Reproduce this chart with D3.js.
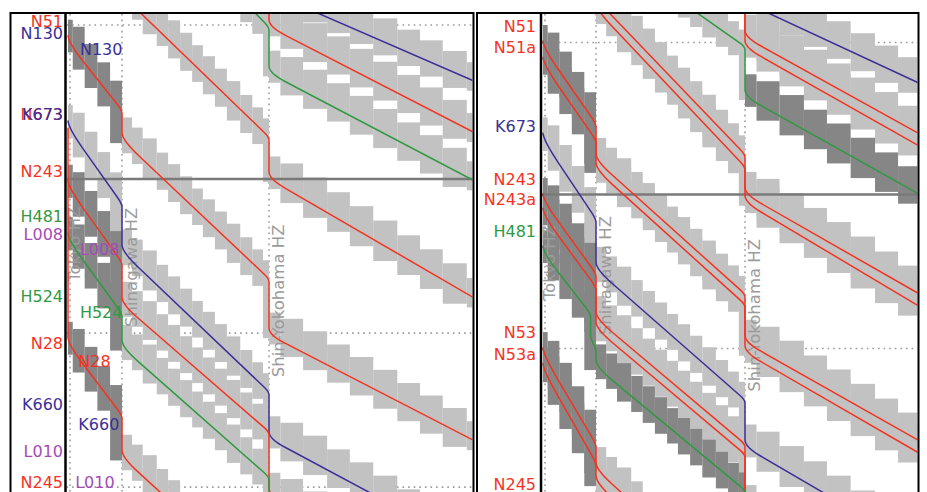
<!DOCTYPE html>
<html><head><meta charset="utf-8">
<script src="https://cdn.jsdelivr.net/npm/d3@7"></script>
<style>body{margin:0;background:#fff;} svg{display:block;font-family:"DejaVu Sans",sans-serif;}</style>
</head><body><svg id="c" width="927" height="492"></svg>
<script>
// ---------------- DATA ----------------
// stations (km from Tokyo)
const stationNames = ["Tokyo HZ", "Shinagawa HZ", "Shin-Yokohama HZ"];
const stationKm = [0, 6.8, 28.8];
// block section boundaries (km)
const blockBounds = [0, 0.6, 2.1, 3.7, 5.3, 6.8, 8.3, 9.9, 12.0, 13.7, 15.5, 17.3, 18.9, 20.7, 22.5, 24.5, 26.3, 27.9, 28.8,
  30.5, 33.9, 37.5, 40.9, 44.4, 48.0, 51.4, 54.8, 58.4, 61.9];
// blocking time before entry / after release (min)
const leadTime = 1.5, releaseTime = 1.0;

// trains: stops = [km, arrival min, departure min]; shade per section (Tokyo-Shinagawa, Shinagawa-ShinYokohama, beyond)
const leftTrains = [
  {c: "b", stops: [[28.8, -8.3, -3.9], [59.3, 5.4, null]], shade: "lll"},
  {c: "r", stops: [[28.8, -5.4, -0.5], [59.3, 10.4, null]], shade: "lll"},
  {c: "g", stops: [[6.8, -18.0, -15.1], [28.8, 0.5, 4.0], [59.3, 15.1, null]], shade: "lll"},
  {c: "r", stops: [[6.8, -6.3, -3.6], [28.8, 11.2, 14.3], [59.3, 26.5, null]], shade: "lll"},
  {c: "r", stops: [[0, null, 1.0], [6.8, 8.6, 10.5], [28.8, 25.0, 29.5], [59.3, 40.4, null]], shade: "dll"},
  {c: "b", stops: [[0, null, 9.3], [6.8, 17.7, 21.4], [28.8, 36.0, 39.6], [59.3, 50.9, null]], shade: "lll"},
  {c: "r", stops: [[0, null, 15.1], [6.8, 23.4, 26.5], [28.8, 39.9, 45.1], [59.3, 56.0, null]], shade: "dll"},
  {c: "g", stops: [[0, null, 20.2], [6.8, 28.4, 30.7], [28.8, 44.3, 48.2], [59.3, 59.9, null]], shade: "dll"},
  {c: "r", stops: [[0, 10.0, 30.4], [6.8, 38.3, 41.4], [28.8, 55.5, 58.9], [59.3, 70.6, null]], shade: "dll"}
];
const rightTrains = [
  {c: "b", stops: [[28.8, -6.3, -2.9], [54.3, 5.6, null]], shade: "lll"},
  {c: "r", stops: [[28.8, -4.4, 0.5], [54.3, 10.5, null]], shade: "lll"},
  {c: "r", stops: [[28.8, -3.4, 1.5], [54.3, 11.7, null]], shade: "lll"},
  {c: "g", stops: [[6.8, -11.2, -8.8], [28.8, 2.4, 6.3], [54.3, 16.4, null]], shade: "lld"},
  {c: "r", stops: [[6.8, -6.3, -3.2], [28.8, 12.9, 15.8], [54.3, 26.1, null]], shade: "lll"},
  {c: "r", stops: [[6.8, -5.4, -2.2], [28.8, 14.1, 16.6], [54.3, 27.3, null]], shade: "lll"},
  {c: "r", stops: [[0, null, 1.5], [6.8, 9.9, 12.5], [28.8, 26.5, 30.2], [54.3, 40.4, null]], shade: "dll"},
  {c: "r", stops: [[0, null, 3.1], [6.8, 11.5, 13.4], [28.8, 27.5, 31.2], [54.3, 41.6, null]], shade: "dll"},
  {c: "b", stops: [[0, null, 10.5], [6.8, 19.2, 23.1], [28.8, 36.8, 40.4], [54.3, 50.9, null]], shade: "lll"},
  {c: "r", stops: [[0, null, 16.4], [6.8, 24.5, 27.9], [28.8, 41.1, 46.3], [54.3, 57.0, null]], shade: "dll"},
  {c: "r", stops: [[0, null, 17.8], [6.8, 25.8, 28.9], [28.8, 42.1, 47.2], [54.3, 57.9, null]], shade: "dll"},
  {c: "g", stops: [[0, null, 21.5], [6.1, 28.4, 30.2], [6.8, 31.8, 32.6], [28.8, 45.6, 49.2], [54.3, 59.9, null]], shade: "ddl"},
  {c: "r", stops: [[0, null, 31.4], [6.8, 41.1, 42.6], [28.8, 56.7, 60.0], [54.3, 70.0, null]], shade: "dll"},
  {c: "r", stops: [[0, null, 32.9], [6.8, 42.9, 43.9], [28.8, 58.2, 61.5], [54.3, 71.5, null]], shade: "dll"}
];
// label column entries: [text, colour, time]
const leftColLabels = [["N51","r",0.2],["N130","b",1.4],["N673","r",9.25],["K673","b",9.25],["N243","r",14.8],["H481","g",19.2],
  ["L008","p",20.9],["H524","g",27.0],["N28","r",31.5],["K660","b",37.5],["L010","p",42.1],["N245","r",45.1]];
const rightColLabels = [["N51","r",0.7],["N51a","r",2.7],["K673","b",10.4],["N243","r",15.6],["N243a","r",17.5],["H481","g",20.6],
  ["N53","r",30.5],["N53a","r",32.6],["N245","r",45.3]];
// labels inside the left plot: [text, colour, km, time]
const leftInnerLabels = [["N130","b",1.5,2.9],["L008","p",1.5,22.4],["H524","g",1.5,28.5],["N28","r",1.3,33.3],["K660","b",1.3,39.4],["L010","p",0.9,45.1]];
// reference time lines (min)
const leftDotted = [0, 30, 45], leftSolid = [15];
const rightDotted = [1.7, 31.5], rightSolid = [16.5];
// station label start times
const leftStationT = [25.0, 29.4, 34.3];
const rightStationT = [26.8, 30.2, 35.7];

// ---------------- STYLE ----------------
const COL = {r: "#f4331f", b: "#3b2f98", g: "#2f9a42", p: "#a64bb6"};
const LIGHT = "#c2c2c2", DARK = "#868686";

const svg = d3.select("#c");
svg.append("rect").attr("width", 927).attr("height", 492).attr("fill", "#fff");

const yScale = d3.scaleLinear().domain([0, 30]).range([25, 333.1]);

function tLast(stops, k) {
  const first = stops[0][0], last = stops[stops.length - 1][0];
  if (k < first - 1e-9 || k > last + 1e-9) return null;
  for (let i = stops.length - 1; i >= 0; i--) {
    if (Math.abs(stops[i][0] - k) < 1e-9) return stops[i][2] != null ? stops[i][2] : stops[i][1];
  }
  for (let i = 0; i < stops.length - 1; i++) {
    const s0 = stops[i], s1 = stops[i + 1];
    if (k > s0[0] && k < s1[0]) return s0[2] + (s1[1] - s0[2]) * (k - s0[0]) / (s1[0] - s0[0]);
  }
  return null;
}

function trainPath(stops, x, y) {
  const p = d3.path();
  const s0 = stops[0];
  p.moveTo(x(s0[0]), y(s0[1] != null ? s0[1] : s0[2]));
  if (s0[1] != null) p.lineTo(x(s0[0]), y(s0[2]));
  for (let i = 0; i < stops.length - 1; i++) {
    const a = stops[i], b = stops[i + 1];
    const x0 = x(a[0]), y0 = y(a[2]), x1 = x(b[0]), y1 = y(b[1]);
    const dx = x1 - x0, dy = y1 - y0;
    const arr = b[2] != null;
    const u = Math.min(7, dy * 0.15), w = Math.min(16, dx * 0.3);
    const v = arr ? Math.min(3, dy * 0.1) : 0, w2 = arr ? Math.min(5, dx * 0.15) : 0;
    const s = (dy - u - v) / dx;
    p.quadraticCurveTo(x0, y0 + u, x0 + w, y0 + u + s * w);
    p.lineTo(x1 - w2, y1 - v - s * w2);
    if (arr) { p.quadraticCurveTo(x1, y1 - v, x1, y1); p.lineTo(x1, y(b[2])); }
  }
  return p.toString();
}

function drawPanel(P) {
  const g = svg.append("g");
  const x = d3.scaleLinear().domain(stationKm).range(P.stationPx);
  const y = yScale;
  const clipId = "clip" + P.id;
  svg.append("defs").append("clipPath").attr("id", clipId).append("rect")
    .attr("x", P.plotL).attr("y", 14).attr("width", P.plotR - P.plotL).attr("height", 492 - 14);
  const pg = g.append("g").attr("clip-path", `url(#${clipId})`);

  pg.selectAll(".sv").data(stationKm).join("line")
    .attr("x1", d => x(d) + (d === 0 ? 2 : 0)).attr("x2", d => x(d) + (d === 0 ? 2 : 0))
    .attr("y1", 14).attr("y2", 492)
    .attr("stroke", "#9a9a9a").attr("stroke-width", 1.6).attr("stroke-dasharray", "1.6,4");
  pg.selectAll(".th").data(P.dotted).join("line")
    .attr("x1", P.plotL).attr("x2", P.plotR).attr("y1", d => y(d)).attr("y2", d => y(d))
    .attr("stroke", "#9a9a9a").attr("stroke-width", 1.6).attr("stroke-dasharray", "1.6,4");

  const rects = [];
  P.trains.forEach(tr => {
    const lastKm = tr.stops[tr.stops.length - 1][0];
    for (let i = 0; i < blockBounds.length - 1; i++) {
      const a = blockBounds[i];
      let b = blockBounds[i + 1];
      if (a >= lastKm) continue;
      if (b > lastKm) b = lastKm;
      const ta = tLast(tr.stops, a), tb = tLast(tr.stops, b);
      if (ta == null || tb == null) continue;
      const sec = a < stationKm[1] - 1e-9 ? 0 : (a < stationKm[2] - 1e-9 ? 1 : 2);
      rects.push({a, b, t0: ta - leadTime, t1: tb + releaseTime, dark: tr.shade[sec] === "d"});
    }
  });
  rects.sort((p, q) => p.dark - q.dark);
  pg.selectAll(".blk").data(rects).join("rect")
    .attr("x", d => x(d.a)).attr("width", d => x(d.b) - x(d.a))
    .attr("y", d => y(d.t0)).attr("height", d => y(d.t1) - y(d.t0))
    .attr("fill", d => d.dark ? DARK : LIGHT);

  pg.selectAll(".ts").data(P.solid).join("line")
    .attr("x1", P.plotL).attr("x2", P.plotR).attr("y1", d => y(d)).attr("y2", d => y(d))
    .attr("stroke", "#7a7a7a").attr("stroke-width", 2.6);

  pg.selectAll(".sn").data(stationNames).join("text")
    .attr("transform", (d, i) => `translate(${x(stationKm[i]) + (i === 0 ? 12 : 14.5)},${y(P.stationT[i])}) rotate(-90)`)
    .attr("font-size", 16.5).attr("fill", "#9b9b9b").text(d => d);

  pg.selectAll(".tr").data(P.trains).join("path")
    .attr("d", d => trainPath(d.stops, x, y))
    .attr("fill", "none").attr("stroke", d => COL[d.c]).attr("stroke-width", 1.5);

  pg.selectAll(".il").data(P.inner).join("text")
    .attr("x", d => x(d[2])).attr("y", d => y(d[3]))
    .attr("font-size", 16).attr("fill", d => COL[d[1]]).text(d => d[0]);

  g.selectAll(".cl").data(P.colLabels).join("text")
    .attr("x", P.labelX).attr("y", d => y(d[2])).attr("text-anchor", "end")
    .attr("font-size", 16).attr("fill", d => COL[d[1]]).text(d => d[0]);

  const fr = g.append("g").attr("stroke", "#000").attr("fill", "none");
  fr.append("line").attr("x1", P.outerL).attr("x2", P.plotR + 1).attr("y1", 13).attr("y2", 13).attr("stroke-width", 2);
  fr.append("line").attr("x1", P.outerL).attr("x2", P.outerL).attr("y1", 12).attr("y2", 492).attr("stroke-width", 2);
  fr.append("line").attr("x1", P.plotL - 1).attr("x2", P.plotL - 1).attr("y1", 12).attr("y2", 492).attr("stroke-width", 2.5);
  fr.append("line").attr("x1", P.plotR + 1).attr("x2", P.plotR + 1).attr("y1", 12).attr("y2", 492).attr("stroke-width", 2);
}

drawPanel({id: "L", trains: leftTrains, stationPx: [68, 122, 269], outerL: 10.5, plotL: 66.5, plotR: 472.5, labelX: 63,
  dotted: leftDotted, solid: leftSolid, stationT: leftStationT, colLabels: leftColLabels, inner: leftInnerLabels});
drawPanel({id: "R", trains: rightTrains, stationPx: [543, 596, 745], outerL: 477, plotL: 542, plotR: 917.5, labelX: 536,
  dotted: rightDotted, solid: rightSolid, stationT: rightStationT, colLabels: rightColLabels, inner: []});
</script></body></html>
